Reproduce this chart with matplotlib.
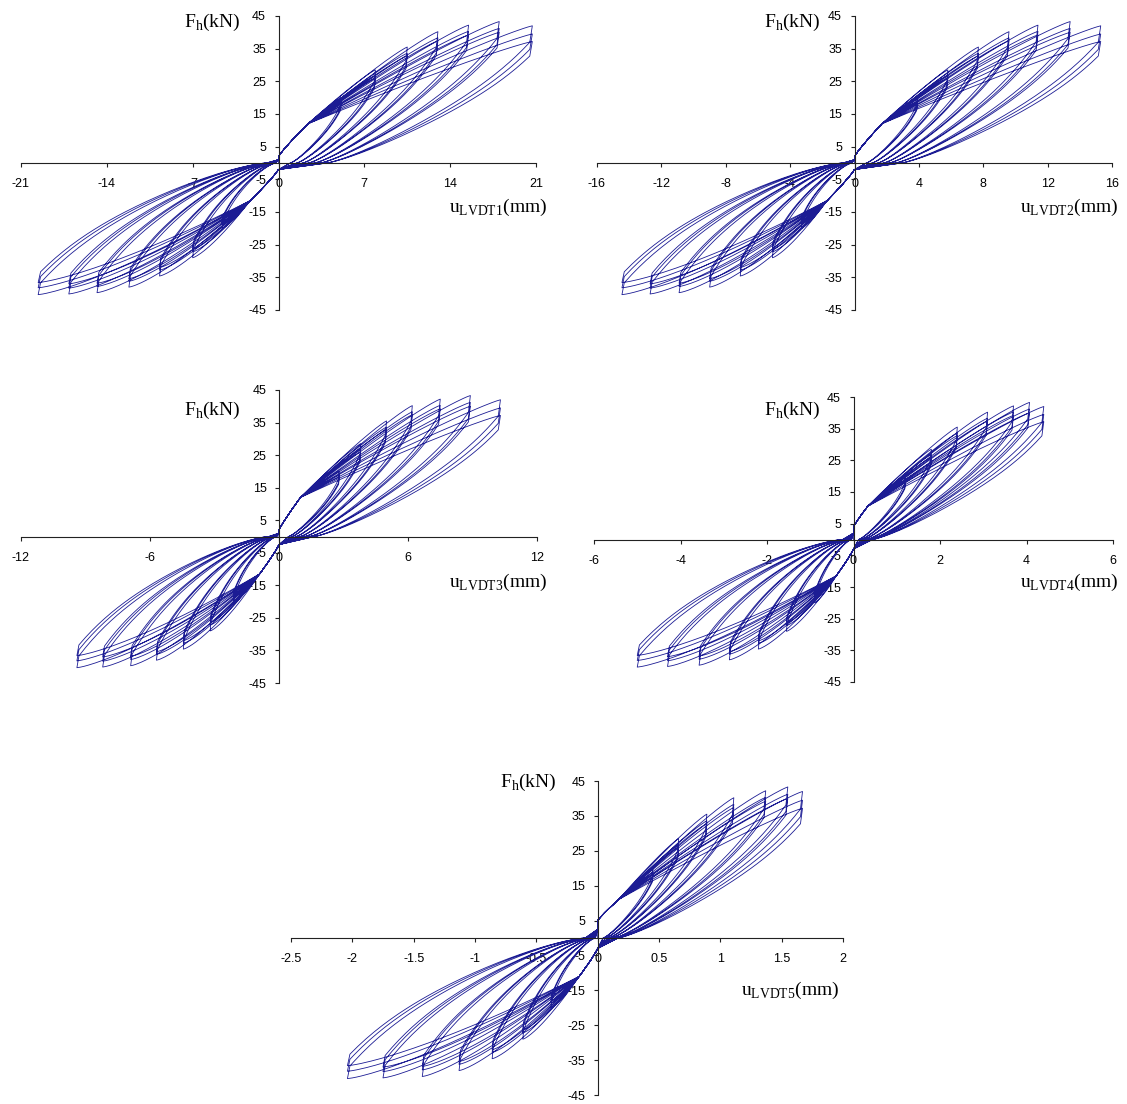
import numpy as np
import matplotlib
matplotlib.use("Agg")
import matplotlib.pyplot as plt

W, H = 1127, 1104

# ---- data -----------------------------------------------------------------
# peak horizontal force per displacement level (3 cycles per level), kN
pos_force_c1 = [20.0, 28.5, 35.5, 40.2, 42.2, 43.3, 42.0]
pos_force_c2 = [18.8, 26.8, 33.6, 38.3, 40.3, 41.2, 39.5]
pos_force_c3 = [18.2, 26.0, 32.8, 37.4, 39.2, 40.0, 37.2]
neg_force_c1 = [-20.0, -29.0, -34.6, -38.0, -39.7, -40.1, -40.3]
neg_force_c2 = [-18.6, -27.2, -32.8, -36.2, -37.8, -38.3, -38.2]
neg_force_c3 = [-18.0, -26.4, -32.0, -35.4, -36.8, -37.0, -36.6]

# peak displacement per level for each LVDT, mm
lvdt1_pos = [5.1, 7.9, 10.5, 13.0, 15.5, 18.0, 20.7]
lvdt1_neg = [-4.6, -7.0, -9.7, -12.2, -14.8, -17.1, -19.6]
lvdt2_pos = [3.9, 5.8, 7.7, 9.6, 11.4, 13.4, 15.3]
lvdt2_neg = [-3.3, -5.1, -7.1, -9.0, -10.9, -12.7, -14.45]
lvdt3_pos = [2.8, 3.8, 5.0, 6.2, 7.5, 8.9, 10.3]
lvdt3_neg = [-2.1, -3.2, -4.45, -5.7, -6.9, -8.2, -9.4]
lvdt4_pos = [1.2, 1.8, 2.4, 3.1, 3.7, 4.07, 4.4]
lvdt4_neg = [-0.9, -1.55, -2.2, -2.87, -3.57, -4.3, -5.0]
lvdt5_pos = [0.45, 0.66, 0.89, 1.11, 1.37, 1.55, 1.67]
lvdt5_neg = [-0.38, -0.61, -0.86, -1.13, -1.43, -1.75, -2.04]

# knee of the loading branches (displacement, force) for each LVDT
knees_pos = [(2.4, 12.0), (1.7, 12.0), (1.0, 12.0), (0.33, 10.5), (0.17, 11.0)]
knees_neg = [(-2.3, -11.5), (-1.7, -11.5), (-0.9, -11.5), (-0.4, -11.5), (-0.15, -11.0)]

x_ticks = [[-21, -14, -7, 0, 7, 14, 21],
           [-16, -12, -8, -4, 0, 4, 8, 12, 16],
           [-12, -6, 0, 6, 12],
           [-6, -4, -2, 0, 2, 4, 6],
           [-2.5, -2, -1.5, -1, -0.5, 0, 0.5, 1, 1.5, 2]]
y_ticks = [-45, -35, -25, -15, -5, 5, 15, 25, 35, 45]
x_names = ["LVDT1", "LVDT2", "LVDT3", "LVDT4", "LVDT5"]

# ---- layout (pixels) -------------------------------------------------------
boxes = [(21, 536, 16, 310), (597, 1112, 16, 310),
         (21, 537, 390, 683), (594, 1113, 397, 682),
         (291, 843, 781, 1095)]
f_lab = [(240, 22), (820, 22), (240, 410), (820, 410), (556, 782)]
u_lab = [(547, 207), (1118, 207), (547, 582), (1118, 582), (839, 990)]
shape = [  # c_up, c_dn, frac0_pos, frac0_neg
    (2.0, -2.0, 0.19, 0.05),
    (2.0, -2.0, 0.19, 0.05),
    (2.0, -2.5, 0.16, 0.05),
    (4.0, -3.0, 0.10, 0.05),
    (5.0, -3.0, 0.10, 0.05),
]

LINE = "#1c1c94"


def half_loop(X, F, knee, c_start, c_end, frac0, drop, q, conc, a):
    xk, Fk = knee
    t = np.linspace(0, 1, 10)
    xa = xk * t
    ya = c_start + (Fk - c_start) * t ** 0.9
    t2 = np.linspace(0, 1, 50)[1:]
    xb = xk + (X - xk) * t2
    yb = Fk + (F - Fk) * (1 - (1 - t2) ** conc)
    Xd = X * 0.99
    Fd = F * (1 - drop)
    x0 = frac0 * X
    t3 = np.linspace(1, 0, 60)
    xc = x0 + (Xd - x0) * t3
    yc = Fd * (a * t3 ** q + (1 - a) * t3 ** 6)
    xs = np.concatenate([xa, xb, xc, [0.0]])
    ys = np.concatenate([ya, yb, yc, [c_end]])
    return xs, ys


def build(pos_d, neg_d, kp, kn, sh):
    c_up, c_dn, f0p, f0n = sh
    xs, ys = [np.array([0.0])], [np.array([0.0])]
    pf = [pos_force_c1, pos_force_c2, pos_force_c3]
    nf = [neg_force_c1, neg_force_c2, neg_force_c3]
    for j in range(len(pos_d)):
        for k in range(3):
            x1, y1 = half_loop(pos_d[j], pf[k][j], kp, c_up, c_dn, f0p,
                               0.12, 1.25, 1.12, 0.88)
            x2, y2 = half_loop(neg_d[j], nf[k][j], kn, c_dn, c_up * 0.5, f0n,
                               0.09, 1.4, 1.3, 0.85)
            xs += [x1, x2]
            ys += [y1, y2]
    return np.concatenate(xs), np.concatenate(ys)


fig = plt.figure(figsize=(W / 100, H / 100), dpi=100)
fig.patch.set_facecolor("white")

pos_all = [lvdt1_pos, lvdt2_pos, lvdt3_pos, lvdt4_pos, lvdt5_pos]
neg_all = [lvdt1_neg, lvdt2_neg, lvdt3_neg, lvdt4_neg, lvdt5_neg]

for i in range(5):
    xl, xr, yt, yb = boxes[i]
    ax = fig.add_axes([xl / W, 1 - yb / H, (xr - xl) / W, (yb - yt) / H])
    ax.set_facecolor("none")
    xt = x_ticks[i]
    ax.set_xlim(xt[0], xt[-1])
    ax.set_ylim(-45, 45)
    px, py = build(pos_all[i], neg_all[i], knees_pos[i], knees_neg[i], shape[i])
    ax.plot(px, py, color=LINE, lw=0.6, solid_joinstyle="round")

    for s in ["top", "right"]:
        ax.spines[s].set_visible(False)
    ax.spines["left"].set_position(("data", 0))
    ax.spines["bottom"].set_position(("data", 0))
    for s in ["left", "bottom"]:
        ax.spines[s].set_linewidth(0.8)
        ax.spines[s].set_color("#222222")
    ax.set_xticks(xt)
    ax.set_xticklabels([("%g" % v) for v in xt])
    ax.set_yticks(y_ticks)
    ax.set_yticklabels([str(v) for v in y_ticks])
    ax.tick_params(axis="x", direction="out", length=3, width=0.8, pad=8,
                   labelsize=9, colors="#222222")
    ax.tick_params(axis="y", direction="out", length=3, width=0.8, pad=6,
                   labelsize=9, colors="#222222")
    for lab in ax.get_xticklabels() + ax.get_yticklabels():
        lab.set_fontfamily("Liberation Sans")
        lab.set_color("black")

    fx, fy = f_lab[i]
    fig.text(fx / W, 1 - fy / H, r"F$_\mathregular{h}$(kN)", ha="right", va="center",
             fontsize=14, fontfamily="Liberation Serif")
    ux, uy = u_lab[i]
    fig.text(ux / W, 1 - uy / H, r"u$_\mathregular{%s}$(mm)" % x_names[i], ha="right",
             va="center", fontsize=14, fontfamily="Liberation Serif")

fig.savefig("out.png", dpi=100, facecolor="white")
